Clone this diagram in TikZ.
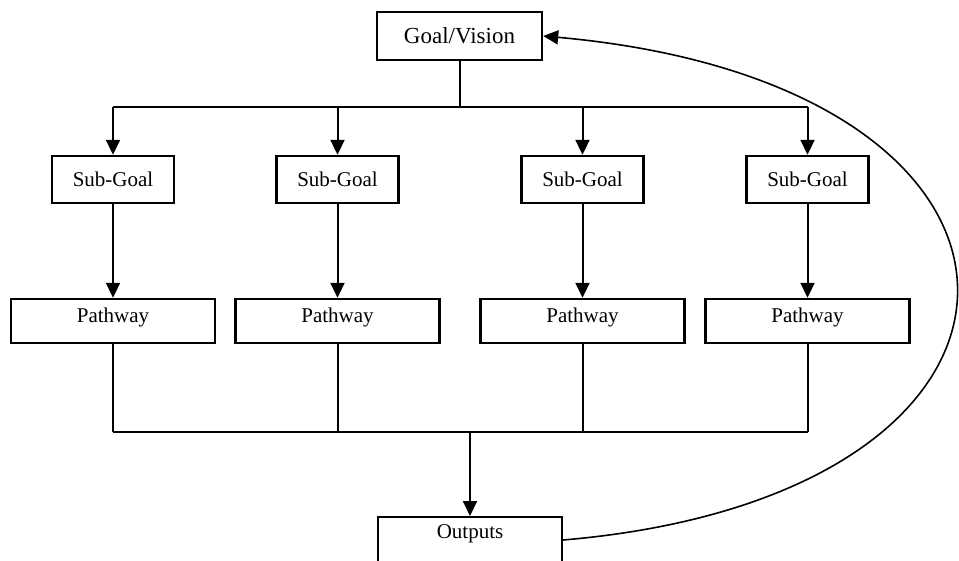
\documentclass[tikz,border=0pt]{standalone}
\usepackage{fontspec}
\setmainfont{Liberation Serif}
\usetikzlibrary{arrows.meta}
\tikzset{
	box/.style={draw, line width=1.2pt, inner sep=0pt, font=\fontsize{10.5}{12}\selectfont},
	goalbox/.style={box, minimum width=82.5pt, minimum height=24pt, font=\fontsize{11.5}{13}\selectfont},
	subbox/.style={box, minimum width=61pt, minimum height=23.5pt},
	pathbox/.style={box, minimum width=102pt, text height=11.5pt, text depth=10.5pt},
	outbox/.style={box, minimum width=92pt, text height=10.5pt, text depth=30pt, anchor=north},
	bus/.style={line width=1pt},
	flow/.style={line width=1pt, -{Triangle[length=7.5pt,width=7pt]}}
}
\begin{document}
\begin{tikzpicture}[x=0.5pt, y=-0.5pt]
		\useasboundingbox (0,0) rectangle (959,561);
		\node[goalbox] (goal) at (459.5,36) {Goal/Vision};
		\coordinate (topbus) at (459.5,107);
		\coordinate (botbus) at (470,432);

		\node[subbox] (sub1) at (113,179.5) {Sub-Goal};
		\node[subbox] (sub2) at (337.5,179.5) {Sub-Goal};
		\node[subbox] (sub3) at (582.5,179.5) {Sub-Goal};
		\node[subbox] (sub4) at (807.5,179.5) {Sub-Goal};

		\node[pathbox] (path1) at (113,321) {Pathway};
		\node[pathbox] (path2) at (337.5,321) {Pathway};
		\node[pathbox] (path3) at (582.5,321) {Pathway};
		\node[pathbox] (path4) at (807.5,321) {Pathway};

		\node[outbox] (outputs) at (470,516) {Outputs};

		% goal down to the sub-goals
		\draw[bus] (goal) -- (topbus);
		\draw[bus] (sub1 |- topbus) -- (sub4 |- topbus);
		\draw[flow] (sub1 |- topbus) -- (sub1);
		\draw[flow] (sub2 |- topbus) -- (sub2);
		\draw[flow] (sub3 |- topbus) -- (sub3);
		\draw[flow] (sub4 |- topbus) -- (sub4);

		\draw[flow] (sub1) -- (path1);
		\draw[flow] (sub2) -- (path2);
		\draw[flow] (sub3) -- (path3);
		\draw[flow] (sub4) -- (path4);

		% pathways joined into the outputs
		\draw[bus] (path1) -- (path1 |- botbus);
		\draw[bus] (path2) -- (path2 |- botbus);
		\draw[bus] (path3) -- (path3 |- botbus);
		\draw[bus] (path4) -- (path4 |- botbus);
		\draw[bus] (path1 |- botbus) -- (path4 |- botbus);
		\draw[flow] (botbus) -- (outputs);

		% feedback loop
		\draw[flow, line width=0.8pt] ([yshift=-12pt]outputs.north east) .. controls (1090,495) and (1090,85) .. (goal.east);
	\end{tikzpicture}
\end{document}
